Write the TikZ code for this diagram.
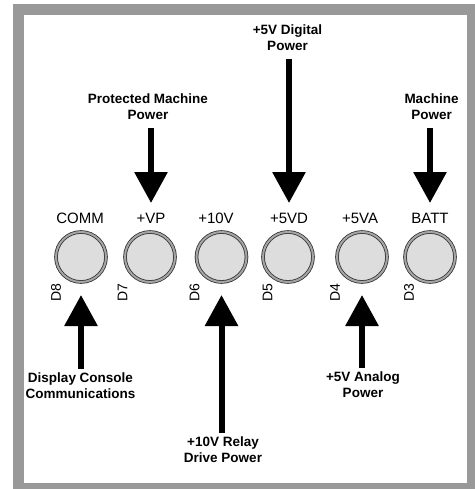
\documentclass[tikz,border=0pt]{standalone}
\usepackage{fontspec}
\setmainfont{Liberation Sans}
\usetikzlibrary{arrows.meta, positioning}
\definecolor{framegray}{RGB}{153,153,153}
\definecolor{ledfill}{RGB}{221,221,221}
\definecolor{ledring}{RGB}{165,165,165}

\begin{document}
\begin{tikzpicture}[x=1pt, y=-1pt,
    led/.style={circle, draw=black!80, line width=0.8pt, double=ledring,
      double distance=2pt, fill=ledfill, minimum size=50pt,
      inner sep=0pt, outer sep=0pt},
    pinname/.style={font=\fontsize{15}{18}\selectfont, inner sep=0pt, anchor=north},
    pinid/.style={font=\fontsize{14}{16}\selectfont, rotate=90, inner sep=0pt},
    source/.style={font=\fontsize{13.5}{15.5}\selectfont\bfseries, align=center,
      inner sep=0pt, anchor=north},
    feed/.style={line width=6pt, -{Triangle[length=31pt, width=32pt]}, black}
]
\useasboundingbox (0,0) rectangle (474,489);
\fill[white] (0,0) rectangle (474,489);
\fill[framegray] (13,4) rectangle (480,495);
\fill[white] (24,15) rectangle (467,483);

% connectors (LEDs)
\node[led] (d8) at (81,257) {};
\node[led] (d7) at (150,257) {};
\node[led] (d6) at (221.5,257) {};
\node[led] (d5) at (288,257) {};
\node[led] (d4) at (362,257) {};
\node[led] (d3) at (430,257) {};

% signal names
\node[pinname] (comm) at (80,213) {COMM};
\node[pinname] (vp) at (151,213) {+VP};
\node[pinname] (tenv) at (216,213) {+10V};
\node[pinname] (fivevd) at (289,213) {+5VD};
\node[pinname] (fiveva) at (360,213) {+5VA};
\node[pinname] (batt) at (430,213) {BATT};

% LED ids
\node[pinid] (id8) at (56,293) {D8};
\node[pinid] (id7) at (122.5,293) {D7};
\node[pinid] (id6) at (194.5,293) {D6};
\node[pinid] (id5) at (267.5,293) {D5};
\node[pinid] (id4) at (335,293) {D4};
\node[pinid] (id3) at (409,293) {D3};

% power sources
\node[source] (protpwr) at (148,94) {Protected Machine\\Power};
\node[source] (digpwr) at (287.5,25) {+5V Digital\\Power};
\node[source] (machpwr) at (431.5,94) {Machine\\Power};
\node[source] (console) at (80.5,373) {Display Console\\Communications};
\node[source] (relaypwr) at (223,437) {+10V Relay\\Drive Power};
\node[source] (anapwr) at (363,372) {+5V Analog\\Power};

\draw[feed, shorten <=8.5pt, shorten >=10pt] (vp |- protpwr.south) -- (vp.north);
\draw[feed, shorten <=8.5pt, shorten >=10pt] (fivevd |- digpwr.south) -- (fivevd.north);
\draw[feed, shorten <=8.5pt, shorten >=10pt] (batt |- machpwr.south) -- (batt.north);
\draw[feed, shorten <=4.5pt, shorten >=13pt] (d8 |- console.north) -- (d8.south);
\draw[feed, shorten <=4.5pt, shorten >=13pt] (d6 |- relaypwr.north) -- (d6.south);
\draw[feed, shorten <=4.5pt, shorten >=13pt] (d4 |- anapwr.north) -- (d4.south);
\end{tikzpicture}
\end{document}
